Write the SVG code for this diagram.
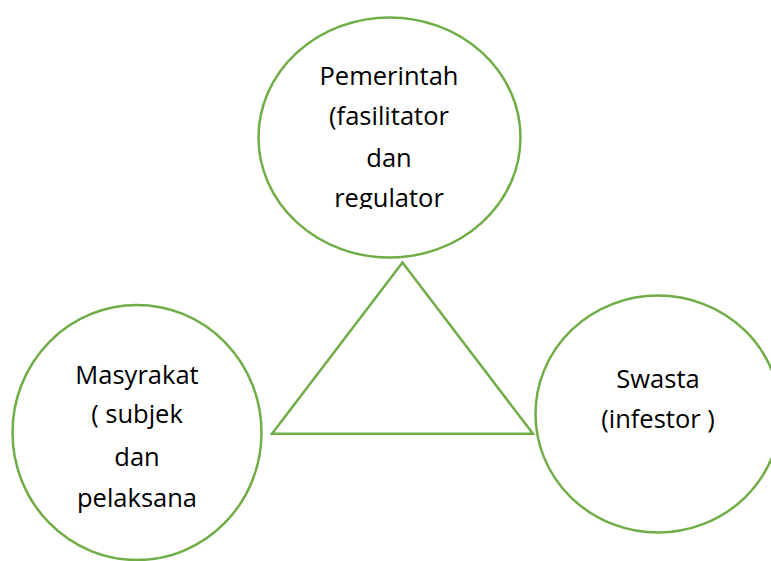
<svg xmlns="http://www.w3.org/2000/svg" width="771" height="561" viewBox="0 0 771 561">
<style>
.n{fill:#fff;stroke:#70AD47;stroke-width:2.5}
.t{font-family:"Open Sans","Liberation Sans",sans-serif;font-size:25.5px;fill:#000;text-anchor:middle}
</style>
<defs>
<clipPath id="clipTop"><rect x="250" y="0" width="290" height="209"/></clipPath>
</defs>
<rect width="771" height="561" fill="#fff"/>
<g id="connectors">
<polygon points="402.5,262.5 272,433.8 533,433.8" fill="none" stroke="#70AD47" stroke-width="2.5"/>
</g>
<g id="pemerintah">
<ellipse class="n" cx="389.5" cy="137.5" rx="131" ry="120"/>
<g clip-path="url(#clipTop)">
<text class="t" x="389" y="85">Pemerintah</text>
<text class="t" x="389" y="125">(fasilitator</text>
<text class="t" x="389" y="167">dan</text>
<text class="t" x="389" y="207">regulator</text>
</g>
</g>
<g id="masyrakat">
<ellipse class="n" cx="137" cy="432.5" rx="124.5" ry="127.5"/>
<text class="t" x="137" y="384">Masyrakat</text>
<text class="t" x="137" y="423">( subjek</text>
<text class="t" x="137" y="466">dan</text>
<text class="t" x="137" y="507">pelaksana</text>
</g>
<g id="swasta">
<ellipse class="n" cx="658" cy="414" rx="122.5" ry="118.5"/>
<text class="t" x="658" y="388">Swasta</text>
<text class="t" x="658" y="428">(infestor )</text>
</g>
</svg>
